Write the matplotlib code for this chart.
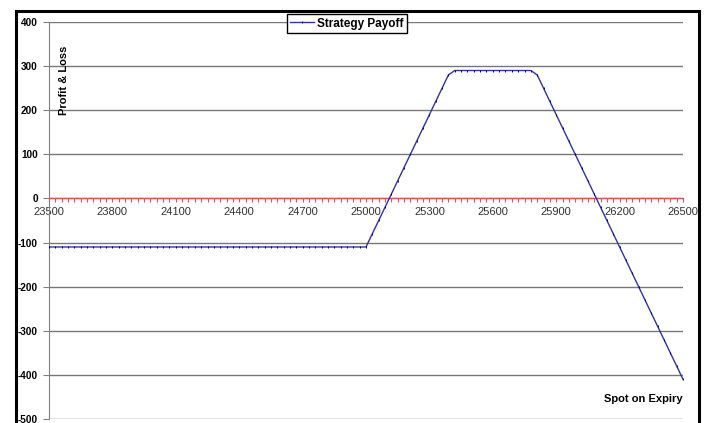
import matplotlib.pyplot as plt
from matplotlib.patches import Rectangle
from matplotlib.ticker import MultipleLocator

plt.rcParams['font.family'] = ['Liberation Sans', 'DejaVu Sans']
plt.rcParams['axes.unicode_minus'] = False

# spot levels on expiry (every 30 points) and strategy P&L at each
spot = list(range(23500, 26501, 30))
payoff = ([-110] * 51
          + [-80, -50, -20, 10, 40, 70, 100, 130, 160, 190, 220, 250, 280]
          + [290] * 13
          + [280, 250, 220, 190, 160, 130, 100, 70, 40, 10,
             -20, -50, -80, -110, -140, -170, -200, -230, -260, -290,
             -320, -350, -380, -410])

W, H = 711, 423
fig = plt.figure(figsize=(W / 100, H / 100), dpi=100)
ax = fig.add_axes([49 / W, 4 / H, (683 - 49) / W, (419 - 22) / H])

ax.plot(spot, payoff, color='#333399', lw=1, marker='|', ms=2,
        mec='#000080', mew=0.7, label='Strategy Payoff', zorder=3)

ax.set_xlim(23500, 26500)
ax.set_ylim(-500, 400)
ax.yaxis.set_major_locator(MultipleLocator(100))
ax.grid(axis='y', color='#777777', lw=1)

ax.spines['top'].set_visible(False)
ax.spines['right'].set_visible(False)
ax.spines['left'].set_color('#808080')
ax.spines['bottom'].set_position(('data', 0))
ax.spines['bottom'].set_color('#D05A5A')
ax.spines['bottom'].set_linewidth(0.9)
ax.spines['bottom'].set_zorder(2.5)

ax.set_xticks(spot[::10])
ax.set_xticks(spot, minor=True)
ax.tick_params(axis='x', which='both', direction='out', length=3, width=0.8,
               color='#D05A5A', labelsize=8, labelcolor='#333333', pad=3)
ax.tick_params(axis='y', length=4, color='#808080', labelsize=7.2, pad=4)
for lbl in ax.get_yticklabels():
    lbl.set_fontweight('bold')

# outer chart frame
fig.patches.append(Rectangle((15.5 / W, -0.1), (698.5 - 15.5) / W, 1 - 11.5 / H + 0.1,
                             transform=fig.transFigure, fill=False,
                             ec='black', lw=2.2))

fig.legend(loc='upper center', bbox_to_anchor=(347 / W, 1 - 14 / H),
           frameon=True, fancybox=False, edgecolor='black', framealpha=1,
           prop={'weight': 'bold', 'size': 8.5}, handlelength=2,
           borderpad=0.3, handletextpad=0.3, borderaxespad=0)

fig.text(64 / W, 1 - 80 / H, 'Profit & Loss', rotation=90, ha='center',
         va='center', weight='bold', size=8)
fig.text(683 / W, 1 - 399 / H, 'Spot on Expiry', ha='right', va='center',
         weight='bold', size=8)

fig.savefig('out.png', dpi=100)
